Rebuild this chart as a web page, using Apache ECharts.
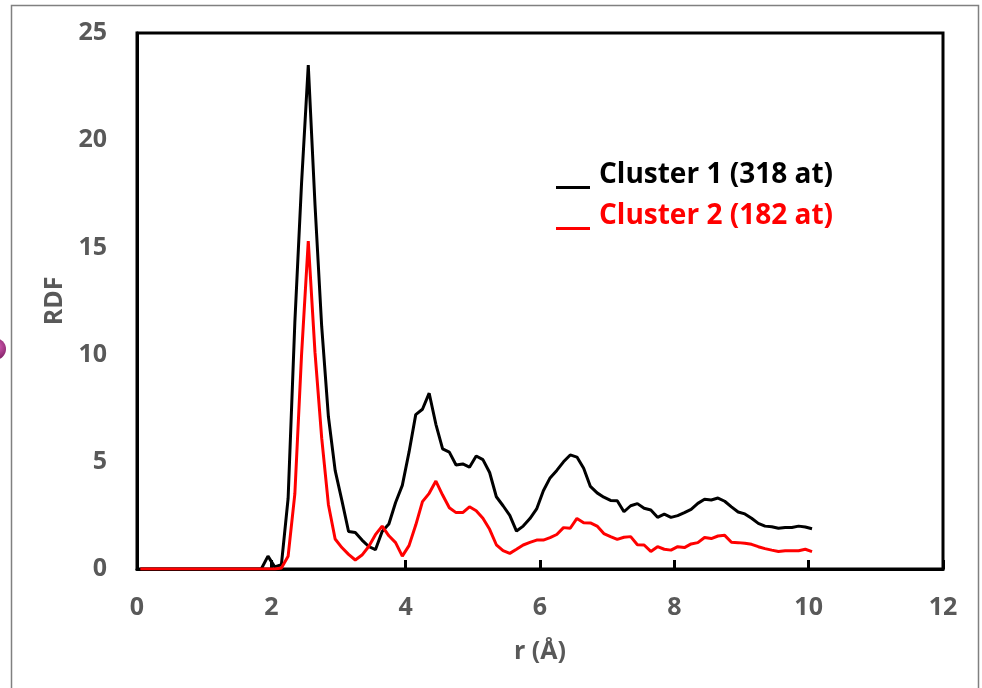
<!DOCTYPE html>
<html>
<head>
<meta charset="utf-8">
<script src="https://cdn.jsdelivr.net/npm/echarts@6/dist/echarts.min.js"></script>
<style>
  html, body { margin: 0; padding: 0; background: #fff; }
  #main { width: 982px; height: 688px; }
</style>
</head>
<body>
<div id="main"></div>
<script>
// r (Å), bin centres
var rValues = [
  0.05, 0.15, 0.25, 0.35, 0.45, 0.55, 0.65, 0.75, 0.85, 0.95,
  1.05, 1.15, 1.25, 1.35, 1.45, 1.55, 1.65, 1.75, 1.85, 1.95,
  2.05, 2.15, 2.25, 2.35, 2.45, 2.55, 2.65, 2.75, 2.85, 2.95,
  3.05, 3.15, 3.25, 3.35, 3.45, 3.55, 3.65, 3.75, 3.85, 3.95,
  4.05, 4.15, 4.25, 4.35, 4.45, 4.55, 4.65, 4.75, 4.85, 4.95,
  5.05, 5.15, 5.25, 5.35, 5.45, 5.55, 5.65, 5.75, 5.85, 5.95,
  6.05, 6.15, 6.25, 6.35, 6.45, 6.55, 6.65, 6.75, 6.85, 6.95,
  7.05, 7.15, 7.25, 7.35, 7.45, 7.55, 7.65, 7.75, 7.85, 7.95,
  8.05, 8.15, 8.25, 8.35, 8.45, 8.55, 8.65, 8.75, 8.85, 8.95,
  9.05, 9.15, 9.25, 9.35, 9.45, 9.55, 9.65, 9.75, 9.85, 9.95,
  10.05
];

// Cluster 1 (318 at)
var cluster1 = [
  0, 0, 0, 0, 0, 0, 0, 0, 0, 0,
  0, 0, 0, 0, 0, 0, 0, 0, 0, 0.6,
  0.1, 0.2, 3.3, 11.5, 18.0, 23.5, 17.0, 11.3, 7.1, 4.6,
  3.2, 1.75, 1.7, 1.35, 1.05, 0.9, 1.75, 2.1, 3.1, 3.9,
  5.45, 7.2, 7.45, 8.2, 6.75, 5.6, 5.45, 4.85, 4.9, 4.75,
  5.27, 5.1, 4.5, 3.37, 2.95, 2.5, 1.77, 2.0, 2.35, 2.8,
  3.65, 4.25, 4.6, 5.0, 5.32, 5.22, 4.7, 3.85, 3.55, 3.35,
  3.2, 3.18, 2.67, 2.95, 3.05, 2.83, 2.75, 2.41, 2.56, 2.41,
  2.49, 2.63, 2.78, 3.06, 3.25, 3.22, 3.31, 3.16, 2.9, 2.66,
  2.57, 2.37, 2.13, 2.0, 1.97, 1.9, 1.94, 1.94, 2.0, 1.96,
  1.88
];

// Cluster 2 (182 at)
var cluster2 = [
  0, 0, 0, 0, 0, 0, 0, 0, 0, 0,
  0, 0, 0, 0, 0, 0, 0, 0, 0, 0,
  0, 0.05, 0.6, 3.5, 10.0, 15.3, 10.1, 6.1, 3.0, 1.4,
  1.0, 0.68, 0.42, 0.65, 1.05, 1.6, 2.0, 1.55, 1.23, 0.6,
  1.09, 2.05, 3.14, 3.53, 4.1, 3.45, 2.86, 2.63, 2.63, 2.9,
  2.72, 2.37, 1.85, 1.13, 0.86, 0.73, 0.92, 1.12, 1.24, 1.35,
  1.35, 1.46, 1.61, 1.93, 1.9, 2.36, 2.16, 2.15, 2.0, 1.65,
  1.51, 1.38, 1.48, 1.51, 1.13, 1.12, 0.82, 1.04, 0.92, 0.88,
  1.04, 1.0, 1.17, 1.23, 1.47, 1.42, 1.54, 1.57, 1.25, 1.23,
  1.2, 1.15, 1.04, 0.95, 0.88, 0.82, 0.85, 0.85, 0.85, 0.92,
  0.81
];

var seriesNames = ['Cluster 1 (318 at)', 'Cluster 2 (182 at)'];
var seriesColors = ['#000000', '#ff0000'];

function pairs(ys) {
  return rValues.map(function (r, i) { return [r, ys[i]]; });
}

var labelColor = '#595959';
var fontFam = '"Open Sans", Lato, sans-serif';

var chart = echarts.init(document.getElementById('main'));

chart.setOption({
  backgroundColor: '#ffffff',
  animation: false,
  grid: {
    left: 137, right: 39, top: 33, bottom: 119,
    show: true,
    borderColor: '#000',
    borderWidth: 3,
    backgroundColor: 'transparent'
  },
  legend: {
    orient: 'vertical',
    left: 551,
    top: 156,
    itemWidth: 34,
    itemHeight: 28,
    itemGap: 13,
    icon: 'path://M0,0 L0.01,0 M0,25 L34,25 L34,28 L0,28 Z',
    itemStyle: { borderWidth: 0 },
    textStyle: { fontFamily: fontFam, fontWeight: 'bold', fontSize: 28, padding: [0, 0, 0, 4] },
    data: [
      { name: seriesNames[0], textStyle: { color: seriesColors[0] } },
      { name: seriesNames[1], textStyle: { color: seriesColors[1] } }
    ]
  },
  xAxis: {
    type: 'value',
    min: 0, max: 12, interval: 2,
    name: 'r (Å)',
    nameLocation: 'middle',
    nameGap: 70,
    nameTextStyle: { color: labelColor, fontFamily: fontFam, fontWeight: 'bold', fontSize: 25 },
    axisLine: { lineStyle: { color: '#000', width: 3 } },
    axisTick: { show: true, inside: true, length: 9, lineStyle: { color: '#000', width: 3 } },
    axisLabel: { color: labelColor, fontFamily: fontFam, fontWeight: 'bold', fontSize: 25, margin: 26 },
    splitLine: { show: false }
  },
  yAxis: {
    type: 'value',
    min: 0, max: 25, interval: 5,
    name: 'RDF',
    nameLocation: 'middle',
    nameGap: 70,
    nameTextStyle: { color: labelColor, fontFamily: fontFam, fontWeight: 'bold', fontSize: 25 },
    axisLine: { show: true, lineStyle: { color: '#000', width: 3 } },
    axisTick: { show: false },
    axisLabel: { color: labelColor, fontFamily: fontFam, fontWeight: 'bold', fontSize: 25, margin: 30 },
    splitLine: { show: false }
  },
  series: [
    {
      name: seriesNames[0],
      type: 'line',
      data: pairs(cluster1),
      showSymbol: false,
      color: seriesColors[0],
      lineStyle: { color: seriesColors[0], width: 3 },
      z: 2
    },
    {
      name: seriesNames[1],
      type: 'line',
      data: pairs(cluster2),
      showSymbol: false,
      color: seriesColors[1],
      lineStyle: { color: seriesColors[1], width: 3 },
      z: 3
    }
  ],
  graphic: [
    {
      type: 'rect',
      shape: { x: 11.5, y: 5.5, width: 967, height: 720 },
      style: { fill: 'none', stroke: '#808080', lineWidth: 1.5 },
      silent: true
    },
    {
      type: 'circle',
      shape: { cx: -5, cy: 349, r: 11 },
      style: {
        fill: {
          type: 'radial', x: 0.6, y: 0.4, r: 0.6,
          colorStops: [{ offset: 0, color: '#d860b8' }, { offset: 1, color: '#7a1a5e' }]
        }
      },
      silent: true
    }
  ]
});
</script>
</body>
</html>
